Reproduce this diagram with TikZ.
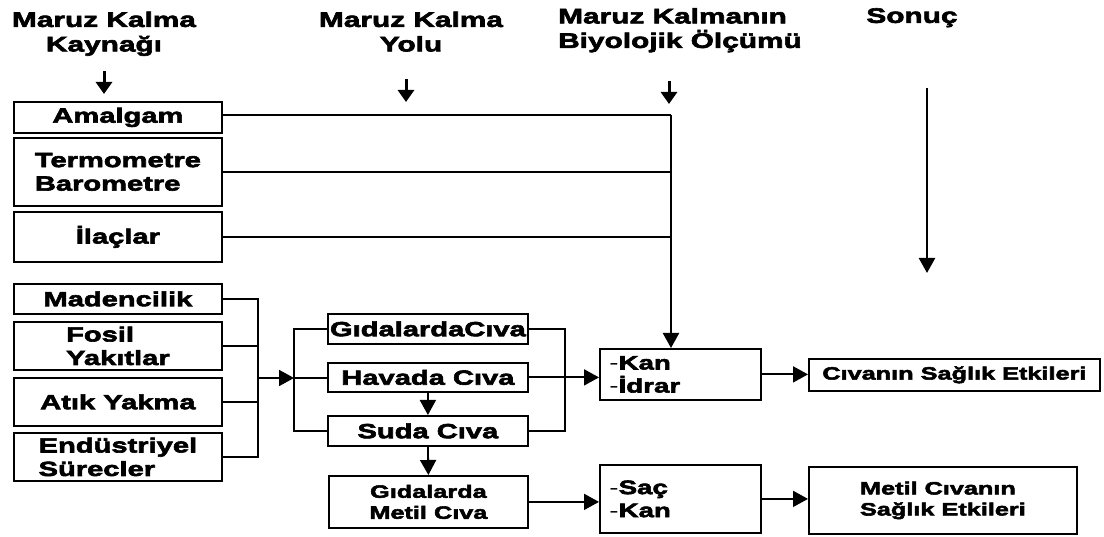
\documentclass[tikz,border=0pt]{standalone}
\usepackage{fontspec}
\setmainfont{Liberation Sans}[FakeStretch=1.42,BoldFeatures={FakeBold=3}]
\usetikzlibrary{arrows.meta}
\newcommand\hdfont{\fontsize{21}{24.5}\selectfont\bfseries}
\newcommand\bxfont{\fontsize{20.5}{23.5}\selectfont\bfseries}
\newcommand\smfont{\fontsize{17.8}{21}\selectfont\bfseries}
\newcommand\kfont{\fontsize{19.5}{23}\selectfont\bfseries}
\newcommand\hy{{\mdseries -}}
\begin{document}
\begin{tikzpicture}[x=1pt,y=-1pt,
  box/.style={draw, line width=1.8pt, rectangle, inner sep=0pt, anchor=north west, align=center, font=\bxfont},
  hdr/.style={inner sep=0pt, anchor=north, align=center, font=\hdfont},
  arr/.style={line width=1.8pt, -{Triangle[length=15pt,width=16pt]}},
  harr/.style={line width=3pt, -{Triangle[length=12pt,width=16pt]}},
  ln/.style={line width=1.6pt}]
\useasboundingbox (0,0) rectangle (1104,537);
% headers
\node[hdr] (h1) at (104,11.5) {Maruz Kalma\\Kaynağı};
\node[hdr] (h2) at (411,11.5) {Maruz Kalma\\Yolu};
\node[hdr, anchor=north west, align=left] (h3) at (558,8) {Maruz Kalmanın\\Biyolojik Ölçümü};
\node[hdr] (h4) at (912,8) {Sonuç};
% header arrows
\coordinate (a1s) at (104,71); \coordinate (a1e) at (104,94);
\coordinate (a2s) at (406,79); \coordinate (a2e) at (406,102);
\coordinate (a3s) at (669,81); \coordinate (a3e) at (669,104);
\coordinate (a4s) at (927,88); \coordinate (a4e) at (927,273);
\draw[harr] (a1s) -- (a1e);
\draw[harr] (a2s) -- (a2e);
\draw[harr] (a3s) -- (a3e);
\draw[arr, line width=2.4pt] (a4s) -- (a4e);
% left boxes
\node[box, minimum width=208, minimum height=31] (amal) at (13,101) {Amalgam};
\node[box, minimum width=208, minimum height=68, align=left] (termo) at (13,137) {Termometre\\Barometre};
\node[box, minimum width=208, minimum height=50] (ilac) at (13,211) {İlaçlar};
\node[box, minimum width=208, minimum height=30] (mad) at (13,283) {Madencilik};
\node[box, minimum width=208, minimum height=48, align=left] (fos) at (13,321) {Fosil\\Yakıtlar};
\node[box, minimum width=208, minimum height=48] (atik) at (13,377) {Atık Yakma};
\node[box, minimum width=208, minimum height=48, align=left] (endu) at (13,432) {\raisebox{-3pt}{Endüstriyel}\\\raisebox{-3pt}{Sürecler}};
% middle boxes
\node[box, minimum width=200, minimum height=30] (gcv) at (327,313) {GıdalardaCıva};
\node[box, minimum width=200, minimum height=29] (hav) at (327,362) {Havada Cıva};
\node[box, minimum width=200, minimum height=30] (suda) at (327,415) {Suda Cıva};
\node[box, minimum width=199, minimum height=52, font=\smfont] (gmc) at (328,475) {Gıdalarda\\Metil Cıva};
% right boxes
\node[box, minimum width=161, minimum height=51, text width=142, align=left, font=\kfont] (kan) at (599,348) {\hy Kan\\\hy İdrar};
\node[box, minimum width=161, minimum height=68, text width=142, align=left, font=\kfont] (sac) at (599,464) {\hy Saç\\\hy Kan};
\node[box, minimum width=291, minimum height=32, font=\smfont] (cse) at (808,358) {Cıvanın Sağlık Etkileri};
\node[box, minimum width=268, minimum height=67, align=left, font=\smfont] (met) at (808,466) {Metil Cıvanın\\Sağlık Etkileri};
% junction coordinates
\coordinate (j) at (671,115);
\coordinate (b1) at (258,378);
\coordinate (b2) at (294,378);
\coordinate (b3) at (565,378);
% top sources to Kan
\draw[ln] (amal.east |- j) -- (j);
\draw[arr, line width=2.4pt] (j) -- (j |- kan.north);
\draw[ln] (termo.east) -- (termo.east -| j);
\draw[ln] (ilac.east) -- (ilac.east -| j);
% left bracket
\draw[ln] (mad.east) -- (mad.east -| b1) -- (endu.east -| b1) -- (endu.east);
\draw[ln] (fos.east) -- (fos.east -| b1);
\draw[ln] (atik.east) -- (atik.east -| b1);
\draw[arr] (b1) -- (b2);
% second bracket
\draw[ln] (gcv.west) -- (gcv.west -| b2) -- (suda.west -| b2) -- (suda.west);
\draw[ln] (b2) -- (hav.west |- b2);
% right bracket
\draw[ln] (gcv.east) -- (gcv.east -| b3) -- (suda.east -| b3) -- (suda.east);
\draw[arr] (hav.east) -- (hav.east -| kan.west);
% vertical arrows
\draw[arr] (hav.south) -- (suda.north);
\draw[arr] (suda.south) -- (gmc.north);
% to results
\draw[arr] (gmc.east) -- (gmc.east -| sac.west);
\draw[arr] (kan.east) -- (kan.east -| cse.west);
\draw[arr] (sac.east) -- (sac.east -| met.west);
\end{tikzpicture}
\end{document}
